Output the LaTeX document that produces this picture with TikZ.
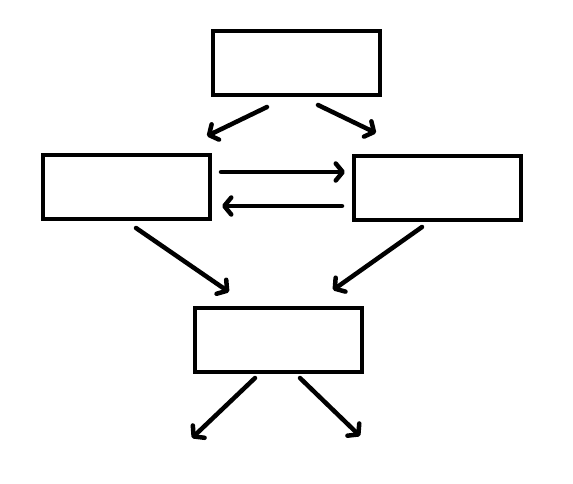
\documentclass[tikz,border=0pt]{standalone}
\usetikzlibrary{arrows.meta}
\begin{document}
\begin{tikzpicture}[x=1pt,y=-1pt,
  box/.style={draw,line width=4.5pt,minimum width=167pt,minimum height=64pt,inner sep=0pt,outer sep=0pt},
  conn/.style={line width=4.5pt,line cap=round,-{Straight Barb[length=7pt,width=17pt,line cap=round,round]}}]
\useasboundingbox[fill=white] (0,0) rectangle (573,483);
\node[box] (top) at (296.5,63) {};
\node[box] (left) at (126.5,187) {};
\node[box] (right) at (437.5,188) {};
\node[box] (bottom) at (278.5,340) {};
\coordinate (a1) at (267,107); \coordinate (a2) at (207,136);
\coordinate (b1) at (318,105); \coordinate (b2) at (376,133);
\coordinate (c1) at (221,172); \coordinate (c2) at (345,172);
\coordinate (d1) at (342,206); \coordinate (d2) at (222,206);
\coordinate (e1) at (136,228); \coordinate (e2) at (229,292);
\coordinate (f1) at (422,227); \coordinate (f2) at (333,290);
\coordinate (g1) at (255,378); \coordinate (g2) at (192,438);
\coordinate (h1) at (300,378); \coordinate (h2) at (360,436);
\draw[conn] (a1) -- (a2);
\draw[conn] (b1) -- (b2);
\draw[conn] (c1) -- (c2);
\draw[conn] (d1) -- (d2);
\draw[conn] (e1) -- (e2);
\draw[conn] (f1) -- (f2);
\draw[conn] (g1) -- (g2);
\draw[conn] (h1) -- (h2);
\end{tikzpicture}
\end{document}
